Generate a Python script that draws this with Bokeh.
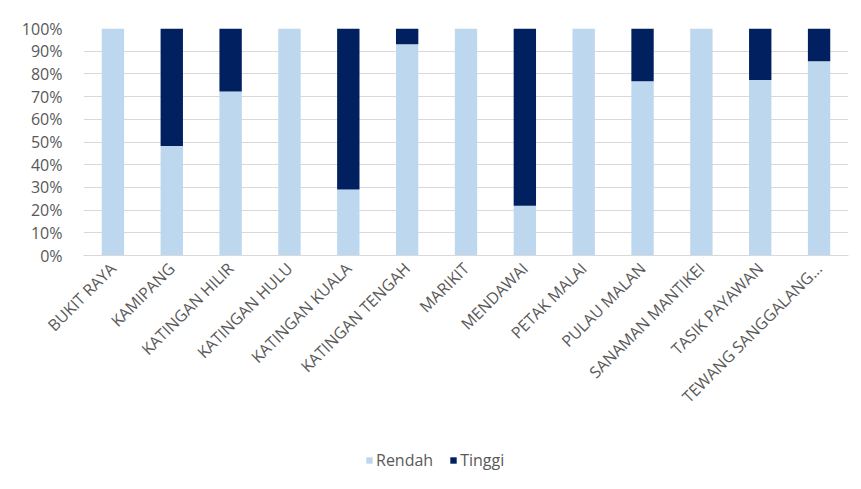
import math
from bokeh.plotting import figure
from bokeh.layouts import column
from bokeh.models import ColumnDataSource, Legend, LegendItem, NumeralTickFormatter, FixedTicker, Range1d
from bokeh.embed import file_html
from bokeh.resources import INLINE

categories = ["BUKIT RAYA", "KAMIPANG", "KATINGAN HILIR", "KATINGAN HULU", "KATINGAN KUALA",
              "KATINGAN TENGAH", "MARIKIT", "MENDAWAI", "PETAK MALAI", "PULAU MALAN",
              "SANAMAN MANTIKEI", "TASIK PAYAWAN", "TEWANG SANGGALANG..."]
rendah = [1.000, 0.482, 0.723, 1.000, 0.291, 0.931, 1.000, 0.219, 1.000, 0.768, 1.000, 0.773, 0.856]
tinggi = [0.000, 0.518, 0.277, 0.000, 0.709, 0.069, 0.000, 0.781, 0.000, 0.232, 0.000, 0.227, 0.144]
y_ticks = [0, 0.1, 0.2, 0.3, 0.4, 0.5, 0.6, 0.7, 0.8, 0.9, 1.0]
series = ["Rendah", "Tinggi"]
colors = ["#BDD7EE", "#002060"]

source = ColumnDataSource(dict(cat=categories, rendah=rendah, tinggi=tinggi))

FONT = "Open Sans"
TXT = "#595959"

p = figure(x_range=categories, y_range=(0, 1), width=861, height=440,
           output_backend="svg", toolbar_location=None,
           min_border_left=83, min_border_right=13, min_border_top=28, min_border_bottom=185)

r = p.vbar_stack(["rendah", "tinggi"], x="cat", width=0.38, source=source,
                 color=colors, line_width=0)

p.x_range.range_padding = 0
p.outline_line_color = None
p.background_fill_color = "white"
p.border_fill_color = "white"

p.xgrid.grid_line_color = None
p.ygrid.grid_line_color = "#D9D9D9"
p.ygrid.grid_line_width = 1
p.yaxis.ticker = FixedTicker(ticks=y_ticks)
p.yaxis.formatter = NumeralTickFormatter(format="0%")
p.yaxis.axis_line_color = None
p.yaxis.major_tick_line_color = None
p.yaxis.minor_tick_line_color = None
p.yaxis.major_label_text_font = FONT
p.yaxis.major_label_text_font_size = "16px"
p.yaxis.major_label_text_color = TXT
p.yaxis.major_label_standoff = 15

p.xaxis.axis_line_color = "#D9D9D9"
p.xaxis.major_tick_line_color = None
p.xaxis.minor_tick_line_color = None
p.xaxis.major_label_orientation = math.pi / 4
p.xaxis.major_label_text_font = FONT
p.xaxis.major_label_text_font_size = "16px"
p.xaxis.major_label_text_color = TXT
p.xaxis.major_label_standoff = 4

# legend strip (shares the category range; its bars lie outside the visible y window)
lg = figure(width=861, height=49, output_backend="svg", toolbar_location=None,
            min_border_left=83, min_border_right=13, min_border_top=0, min_border_bottom=0,
            x_range=p.x_range, y_range=Range1d(2, 3), x_axis_type=None, y_axis_type=None)
lg.grid.visible = False
lg.outline_line_color = None
lg.background_fill_color = "white"
lg.border_fill_color = "white"
rl = lg.vbar_stack(["rendah", "tinggi"], x="cat", width=0.38, source=source,
                   color=colors, line_width=0)
items = [LegendItem(label=name, renderers=[rr]) for name, rr in zip(series, rl)]
legend = Legend(items=items, orientation="horizontal", location=(282, 18),
                label_text_font=FONT, label_text_font_size="16px", label_text_color=TXT,
                glyph_width=8, glyph_height=8, spacing=16, label_standoff=3,
                background_fill_alpha=0, border_line_color=None, padding=0, margin=0)
lg.add_layout(legend, "center")

layout = column(p, lg, spacing=0)
open("out.html", "w").write(file_html(layout, INLINE))
